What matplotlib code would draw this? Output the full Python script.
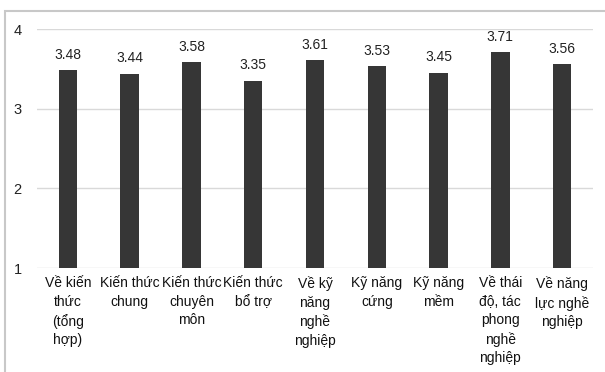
import matplotlib
matplotlib.use("Agg")
import matplotlib.pyplot as plt
from matplotlib.patches import Rectangle

categories = ["Về kiến\nthức\n(tổng\nhợp)", "Kiến thức\nchung", "Kiến thức\nchuyên\nmôn",
              "Kiến thức\nbổ trợ", "Về kỹ\nnăng\nnghề\nnghiệp", "Kỹ năng\ncứng",
              "Kỹ năng\nmềm", "Về thái\nđộ, tác\nphong\nnghề\nnghiệp", "Về năng\nlực nghề\nnghiệp"]
values = [3.48, 3.44, 3.58, 3.35, 3.61, 3.53, 3.45, 3.71, 3.56]
yticks = [1, 2, 3, 4]

plt.rcParams['font.family'] = ['Liberation Sans', 'DejaVu Sans']

W, H = 605, 372
fig = plt.figure(figsize=(W/100, H/100), dpi=100)
ax = fig.add_axes([37/W, 1 - 268/H, (593-37)/W, (268-29)/H])

x = range(len(values))
bars = ax.bar(x, [v - 1 for v in values], bottom=1, width=0.3, color="#363636", zorder=3)
for xi, v in zip(x, values):
    ax.annotate(f"{v:.2f}", (xi, v), xytext=(0, 6), textcoords="offset points",
                ha="center", va="bottom", fontsize=10, color="#222222")

ax.set_ylim(1, 4)
ax.set_xlim(-0.5, len(values) - 0.5)
ax.set_yticks(yticks)
ax.set_yticklabels([str(t) for t in yticks], fontsize=10.5, color="#222222")
ax.set_xticks(list(x))
ax.set_xticklabels(categories, fontsize=10, color="#111111", linespacing=1.4)
ax.tick_params(axis="both", length=0)
ax.tick_params(axis="y", pad=11)
ax.tick_params(axis="x", pad=6)
for s in ax.spines.values():
    s.set_visible(False)
ax.yaxis.grid(True, color="#d9d9d9", linewidth=1, zorder=0)
ax.set_axisbelow(True)

fig.patches.append(Rectangle((4.5/W, -0.1), 1.2, 1 - 10.5/H + 0.1, transform=fig.transFigure,
                             fill=False, edgecolor="#c8c8c8", linewidth=1.5))

fig.savefig("out.png", dpi=100)
